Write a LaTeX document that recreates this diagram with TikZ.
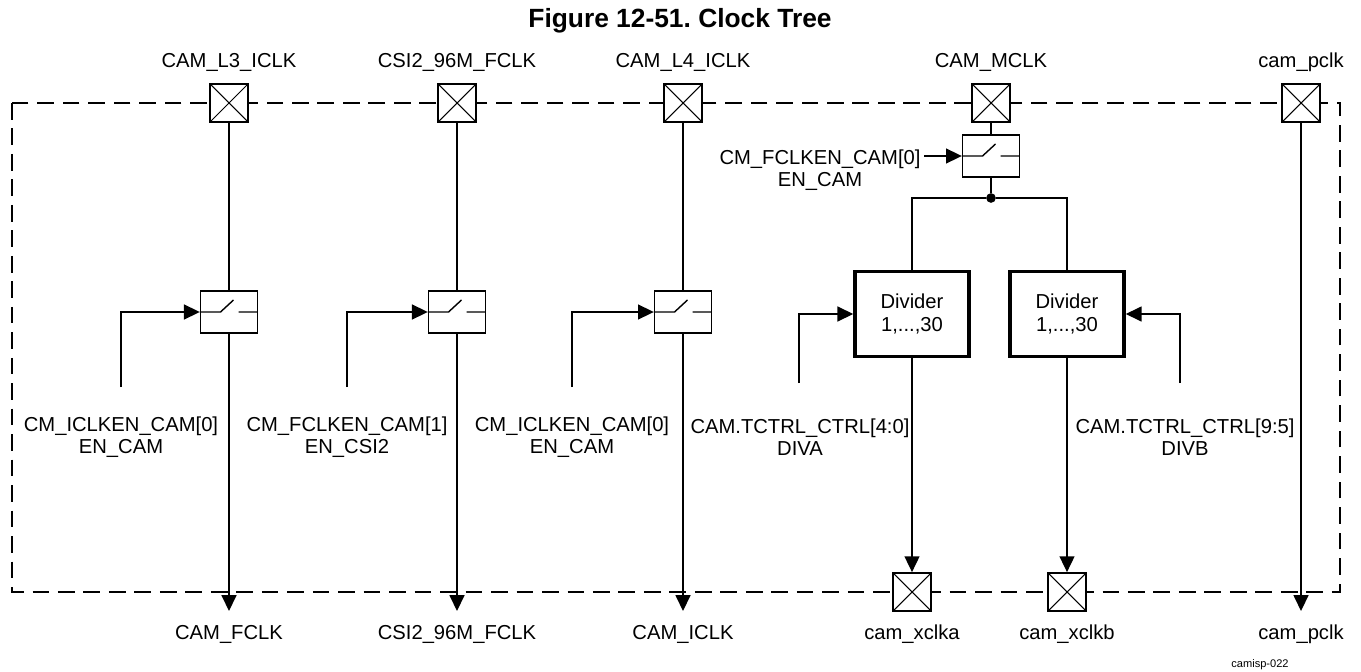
\documentclass[tikz,border=0pt]{standalone}
\usepackage{fontspec}
\setmainfont{Liberation Sans}
\usetikzlibrary{arrows.meta}
\frenchspacing
\tikzset{
  pad/.style={draw,line width=1pt,fill=white,minimum size=0.76cm,inner sep=0pt,
    path picture={\draw[line width=0.6pt] (path picture bounding box.north west)--(path picture bounding box.south east)
      (path picture bounding box.south west)--(path picture bounding box.north east);}},
  swbox/.style={draw,line width=0.8pt,fill=white,minimum width=1.14cm,minimum height=0.84cm,inner sep=0pt,
    path picture={\draw[line width=0.8pt] (path picture bounding box.west) -- ++(0.4cm,0) -- ++(0.26cm,0.24cm)
      (path picture bounding box.east) -- ++(-0.38cm,0);}},
  divbox/.style={draw,line width=2pt,minimum width=2.28cm,minimum height=1.7cm,align=center,inner sep=0pt},
  lbl/.style={align=center,inner sep=0pt},
  wire/.style={line width=0.8pt},
  sig/.style={wire,-{Triangle[length=9pt,width=8.5pt]}},
}
\begin{document}
\begin{tikzpicture}[x=0.02cm,y=-0.02cm,font=\fontsize{11.5}{12.6}\selectfont]
\useasboundingbox (0,0) rectangle (1361,672);
\node[font=\fontsize{15}{18}\selectfont\bfseries] (title) at (680,21) {Figure 12-51. Clock Tree};
\draw[line width=1.6pt,dash pattern=on 9.5pt off 5pt] (12,103) rectangle (1340,592);
% clock inputs
\foreach \n/\x/\t in {p1/229/CAM\_L3\_ICLK,p2/457/CSI2\_96M\_FCLK,p3/683/CAM\_L4\_ICLK,p4/991/CAM\_MCLK,p5/1301/cam\_pclk}{
  \node[pad] (\n) at (\x,103) {};
  \node[lbl,anchor=base] (t\n) at (\x,68) {\t};
}
% gated clocks
\foreach \i/\x/\cx/\ctl/\out in {1/229/121/CM\_ICLKEN\_CAM[0]\\EN\_CAM/CAM\_FCLK,2/457/347/CM\_FCLKEN\_CAM[1]\\EN\_CSI2/CSI2\_96M\_FCLK,3/683/572/CM\_ICLKEN\_CAM[0]\\EN\_CAM/CAM\_ICLK}{
  \node[swbox] (s\i) at (\x,312) {};
  \draw[wire] (p\i) -- (s\i);
  \coordinate (c\i) at (\cx,387);
  \draw[sig] (c\i) |- (s\i.west);
  \node[lbl] (l\i) at (\cx,437) {\ctl};
  \coordinate (o\i) at (\x,611);
  \draw[sig] (s\i) -- (o\i);
  \node[lbl,anchor=base] (to\i) at (\x,639) {\out};
}
% camera clock
\node[swbox] (s4) at (991,156) {};
\draw[wire] (p4) -- (s4);
\coordinate (c4) at (924,156);
\draw[sig] (c4) -- (s4.west);
\node[lbl] (l4) at (820,170) {CM\_FCLKEN\_CAM[0]\\EN\_CAM};
\node[circle,fill,inner sep=0pt,minimum size=5.5pt] (j) at (991,198) {};
\draw[wire] (s4) -- (j);
\node[divbox] (dA) at (912,314) {Divider\\1,...,30};
\node[divbox] (dB) at (1067,314) {Divider\\1,...,30};
\draw[wire] (j) -| (dA);
\draw[wire] (j) -| (dB);
\coordinate (cA) at (799,383);
\coordinate (cB) at (1180,383);
\draw[sig] (cA) |- (dA.west);
\draw[sig] (cB) |- (dB.east);
\node[lbl] (lA) at (800,437) {CAM.TCTRL\_CTRL[4:0]\\DIVA};
\node[lbl] (lB) at (1185,437) {CAM.TCTRL\_CTRL[9:5]\\DIVB};
\node[pad] (pA) at (912,592) {};
\node[pad] (pB) at (1067,592) {};
\draw[sig] (dA) -- (pA);
\draw[sig] (dB) -- (pB);
\node[lbl,anchor=base] (tpA) at (912,639) {cam\_xclka};
\node[lbl,anchor=base] (tpB) at (1067,639) {cam\_xclkb};
% pixel clock
\coordinate (o5) at (1301,611);
\draw[sig] (p5) -- (o5);
\node[lbl,anchor=base] (to5) at (1301,639) {cam\_pclk};
\node[font=\fontsize{6.3}{7}\selectfont] (fig) at (1260,665) {camisp-022};
\end{tikzpicture}
\end{document}
